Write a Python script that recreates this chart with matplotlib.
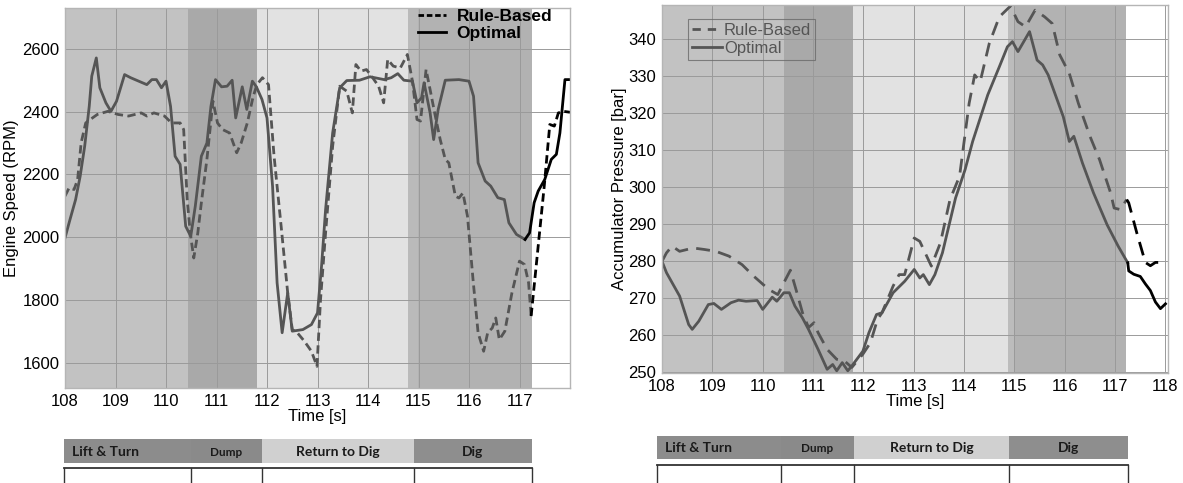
import matplotlib
matplotlib.use("Agg")
import matplotlib.pyplot as plt
from matplotlib.lines import Line2D
from matplotlib.patches import Rectangle

plt.rcParams['font.family'] = ['Liberation Sans', 'DejaVu Sans']

# ---- engine speed (left) ----
eng_opt_t = [108.0, 108.1, 108.21, 108.3, 108.39, 108.48, 108.53, 108.62, 108.69, 108.81, 108.91, 109.02,
             109.18, 109.3, 109.62, 109.72, 109.81, 109.91, 110.0, 110.09, 110.18, 110.28, 110.39, 110.49,
             110.58, 110.7, 110.81, 110.89, 110.98, 111.1, 111.21, 111.31, 111.38, 111.51, 111.6, 111.71,
             111.79, 111.9, 112.0, 112.11, 112.2, 112.3, 112.41, 112.5, 112.71, 112.88, 113.0, 113.08,
             113.16, 113.3, 113.44, 113.58, 113.83, 114.04, 114.32, 114.46, 114.59, 114.71, 114.88, 114.97,
             115.06, 115.11, 115.23, 115.3, 115.39, 115.53, 115.8, 116.0, 116.09, 116.18, 116.32, 116.43,
             116.57, 116.7, 116.79, 116.94, 117.11]
eng_opt = [1998, 2057, 2120, 2194, 2290, 2417, 2513, 2571, 2476, 2428, 2401, 2433,
           2518, 2508, 2486, 2502, 2502, 2476, 2497, 2417, 2258, 2232, 2035, 2003,
           2099, 2258, 2300, 2417, 2502, 2479, 2481, 2500, 2380, 2479, 2407, 2497,
           2479, 2439, 2380, 2163, 1855, 1696, 1823, 1701, 1706, 1722, 1759, 1908,
           2088, 2332, 2476, 2499, 2500, 2511, 2502, 2508, 2521, 2500, 2497, 2428,
           2444, 2492, 2396, 2311, 2407, 2500, 2502, 2497, 2449, 2237, 2179, 2163,
           2126, 2120, 2046, 2009, 1993]
eng_opt_end_t = [117.11, 117.2, 117.29, 117.37, 117.5, 117.63, 117.73, 117.8, 117.9, 118.0]
eng_opt_end = [1993, 2014, 2110, 2147, 2184, 2248, 2264, 2332, 2502, 2502]

eng_rb_t = [108.0, 108.08, 108.18, 108.25, 108.32, 108.41, 108.5, 108.64, 108.85, 109.05, 109.26, 109.51,
            109.62, 109.76, 109.97, 110.11, 110.28, 110.35, 110.42, 110.48, 110.55, 110.63, 110.7, 110.81,
            110.93, 111.02, 111.12, 111.26, 111.4, 111.49, 111.61, 111.72, 111.8, 111.91, 112.03, 112.14,
            112.28, 112.41, 112.5, 112.6, 112.74, 112.88, 112.99, 113.06, 113.16, 113.3, 113.44, 113.58,
            113.69, 113.76, 113.86, 113.97, 114.07, 114.21, 114.31, 114.39, 114.5, 114.64, 114.78, 114.88,
            114.97, 115.04, 115.15, 115.23, 115.32, 115.43, 115.53, 115.6, 115.73, 115.8, 115.88, 115.97,
            116.08, 116.18, 116.29, 116.37, 116.46, 116.53, 116.6, 116.71, 116.85, 117.0, 117.1, 117.18,
            117.23]
eng_rb = [2131, 2157, 2152, 2184, 2301, 2364, 2375, 2391, 2401, 2391, 2386, 2396,
          2386, 2396, 2386, 2364, 2364, 2343, 2120, 2014, 1934, 2014, 2110, 2248,
          2433, 2364, 2343, 2332, 2269, 2301, 2364, 2444, 2486, 2508, 2486, 2258,
          2035, 1823, 1706, 1696, 1669, 1637, 1589, 1802, 2014, 2290, 2481, 2465,
          2396, 2550, 2529, 2534, 2513, 2481, 2428, 2566, 2545, 2539, 2582, 2497,
          2375, 2370, 2534, 2470, 2396, 2311, 2248, 2237, 2131, 2125, 2141, 2067,
          1865, 1696, 1637, 1696, 1711, 1743, 1674, 1701, 1823, 1924, 1913, 1855,
          1749]
eng_rb_end_t = [117.23, 117.33, 117.49, 117.6, 117.69, 117.77, 117.87, 118.0]
eng_rb_end = [1749, 1908, 2163, 2359, 2354, 2396, 2401, 2398]

# ---- accumulator pressure (right) ----
acc_opt_t = [108.0, 108.09, 108.35, 108.53, 108.6, 108.73, 108.92, 109.03, 109.18, 109.37, 109.52, 109.67,
             109.89, 110.0, 110.19, 110.28, 110.42, 110.53, 110.64, 110.79, 110.91, 111.1, 111.28, 111.39,
             111.47, 111.58, 111.69, 111.77, 111.99, 112.11, 112.26, 112.37, 112.59, 112.82, 113.01, 113.12,
             113.19, 113.31, 113.42, 113.57, 113.83, 114.02, 114.17, 114.47, 114.7, 114.86, 114.96, 115.07,
             115.3, 115.45, 115.56, 115.67, 115.97, 116.09, 116.18, 116.35, 116.57, 116.84, 117.06, 117.25]
acc_opt = [279.9, 276.8, 270.5, 262.8, 261.5, 263.7, 268.2, 268.5, 266.9, 268.7, 269.4, 269.1,
           269.3, 266.9, 270.2, 269.1, 271.4, 271.4, 267.8, 264.6, 261.5, 256.1, 250.7, 252.0,
           250.3, 252.5, 250.3, 251.6, 255.6, 260.6, 265.5, 266.0, 271.4, 274.5, 277.7, 275.4,
           276.3, 273.6, 276.3, 282.2, 297.0, 304.7, 312.3, 324.9, 332.5, 337.9, 339.3, 336.6,
           342.0, 334.3, 333.0, 330.3, 319.0, 312.3, 313.7, 306.5, 298.4, 289.8, 284.0, 279.5]
acc_opt_end_t = [117.25, 117.27, 117.37, 117.5, 117.6, 117.7, 117.8, 117.9, 118.0]
acc_opt_end = [279.5, 277.3, 276.4, 275.8, 273.8, 272.0, 268.9, 267.1, 268.4]

acc_rb_t = [108.0, 108.09, 108.2, 108.35, 108.62, 108.84, 109.07, 109.33, 109.59, 109.82, 110.12, 110.3,
            110.42, 110.55, 110.68, 110.79, 110.91, 111.02, 111.1, 111.28, 111.47, 111.62, 111.77, 111.99,
            112.14, 112.28, 112.37, 112.59, 112.71, 112.82, 113.01, 113.12, 113.35, 113.53, 113.72, 113.91,
            114.1, 114.21, 114.32, 114.5, 114.7, 114.92, 115.07, 115.22, 115.41, 115.6, 115.75, 115.9,
            116.09, 116.27, 116.5, 116.69, 116.91, 116.98, 117.1, 117.23]
acc_rb = [279.9, 282.2, 284.0, 282.6, 283.5, 283.1, 282.6, 281.3, 279.0, 275.9, 272.3, 270.9,
          274.1, 277.5, 271.4, 266.0, 262.0, 263.3, 260.6, 256.1, 253.4, 253.0, 251.2, 254.8,
          257.9, 264.2, 266.0, 273.2, 276.3, 276.3, 286.2, 285.3, 278.6, 284.9, 296.6, 302.9,
          322.6, 330.3, 328.5, 338.8, 346.0, 348.9, 344.7, 343.3, 347.8, 346.0, 344.2, 335.7,
          330.7, 322.6, 313.7, 307.4, 298.4, 294.3, 293.9, 296.6]
acc_rb_end_t = [117.23, 117.27, 117.43, 117.6, 117.7, 117.8, 118.0]
acc_rb_end = [296.6, 295.7, 287.6, 279.6, 278.7, 279.6, 279.6]

# ---- phases ----
phase_names = ['Lift & Turn', 'Dump', 'Return to Dig', 'Dig']
phase_edges_left = [108.0, 110.43, 111.8, 114.8, 117.25]
phase_edges_right = [108.0, 110.42, 111.79, 114.87, 117.21]
phase_colors = ['#c2c2c2', '#a9a9a9', '#e2e2e2', '#b2b2b2']
bar_colors = ['#8c8c8c', '#8a8a8a', '#d0d0d0', '#8e8e8e']

W, H = 1183, 483
fig = plt.figure(figsize=(W / 100, H / 100), dpi=100)

GRAY = '#555555'


def style_axes(ax):
    ax.grid(True, color='#9a9a9a', linewidth=0.7)
    ax.tick_params(length=0, labelsize=12, pad=4)
    for s in ax.spines.values():
        s.set_color('#b5b5b5')
        s.set_linewidth(1.0)


def shade(ax, edges):
    for i in range(len(phase_names)):
        ax.axvspan(edges[i], edges[i + 1], color=phase_colors[i], lw=0, zorder=0.2)


# left axes
ax1 = fig.add_axes([65 / W, 1 - 388 / H, (570 - 65) / W, (388 - 8) / H])
shade(ax1, phase_edges_left)
ax1.axvspan(114.8, 115.0, color='#bababa', lw=0, zorder=0.3)
ax1.plot(eng_rb_t, eng_rb, color=GRAY, lw=2.0, dashes=(3, 1.6))
ax1.plot(eng_opt_t, eng_opt, color=GRAY, lw=2.0)
ax1.plot(eng_rb_end_t, eng_rb_end, color='black', lw=2.0, dashes=(3, 1.6))
ax1.plot(eng_opt_end_t, eng_opt_end, color='black', lw=2.0)
ax1.set_xlim(108, 118)
ax1.set_ylim(1520, 2730)
ax1.set_xticks(range(108, 118))
ax1.set_yticks(range(1600, 2601, 200))
style_axes(ax1)
ax1.set_xlabel('Time [s]', fontsize=12, labelpad=0)
ax1.set_ylabel('Engine Speed (RPM)', fontsize=12, labelpad=2)
h1 = [Line2D([], [], color='black', lw=2, dashes=(2, 1)),
      Line2D([], [], color='black', lw=2)]
ax1.legend(h1, ['Rule-Based', 'Optimal'], loc='upper right', bbox_to_anchor=(0.985, 1.025),
           frameon=False, prop={'weight': 'bold', 'size': 12.5}, handlelength=1.6,
           handletextpad=0.6, labelspacing=0.1, borderaxespad=0.2)

# right axes
ax2 = fig.add_axes([662 / W, 1 - 373 / H, (1168 - 662) / W, (373 - 5) / H])
shade(ax2, phase_edges_right)
ax2.axvspan(114.87, 115.0, color='#bcbcbc', lw=0, zorder=0.3)
ax2.plot(acc_rb_t, acc_rb, color=GRAY, lw=2.0, dashes=(5, 3))
ax2.plot(acc_opt_t, acc_opt, color=GRAY, lw=2.0)
ax2.plot(acc_rb_end_t, acc_rb_end, color='black', lw=2.0, dashes=(5, 3))
ax2.plot(acc_opt_end_t, acc_opt_end, color='black', lw=2.0)
ax2.set_xlim(108, 118.05)
ax2.set_ylim(249.7, 349.2)
ax2.set_xticks(range(108, 119))
ax2.set_yticks(range(250, 341, 10))
style_axes(ax2)
ax2.set_xlabel('Time [s]', fontsize=12, labelpad=0)
ax2.set_ylabel('Accumulator Pressure [bar]', fontsize=12, labelpad=1)
h2 = [Line2D([], [], color=GRAY, lw=2, dashes=(3, 2.5)),
      Line2D([], [], color=GRAY, lw=2)]
leg = ax2.legend(h2, ['Rule-Based', 'Optimal'], loc='upper left', bbox_to_anchor=(0.035, 0.985),
                 frameon=True, fancybox=False, fontsize=12, handlelength=1.8,
                 handletextpad=0.1, labelspacing=0.15, borderpad=0.25, labelcolor=GRAY)
leg.get_frame().set_edgecolor('#6a6a6a')
leg.get_frame().set_facecolor('none')
leg.get_frame().set_linewidth(0.8)

# phase bars under each plot (figure pixel coordinates)
ov = fig.add_axes([0, 0, 1, 1])
ov.set_xlim(0, W)
ov.set_ylim(H, 0)
ov.axis('off')


def phase_bar(xs, y0, y1, yline):
    for i, name in enumerate(phase_names):
        ov.add_patch(Rectangle((xs[i], y0), xs[i + 1] - xs[i], y1 - y0,
                               facecolor=bar_colors[i], edgecolor='none'))
        size = 8.5 if name == 'Dump' else 10
        xc = xs[i] + 8 if i == 0 else (xs[i] + xs[i + 1]) / 2
        ov.text(xc, (y0 + y1) / 2 + 1, name, ha='left' if i == 0 else 'center', va='center',
                fontsize=size, fontweight='bold', family=['Lato', 'DejaVu Sans'], color='#1a1a1a')
    ov.plot([xs[0], xs[-1]], [yline, yline], color='#333333', lw=1.3)
    for x in xs:
        ov.plot([x, x], [yline, H], color='#333333', lw=1.0)


phase_bar([64, 191, 262, 414, 532], 439, 463, 468)
phase_bar([657, 781, 854, 1009, 1128], 436, 459, 465)

fig.savefig('out.png', dpi=100)
